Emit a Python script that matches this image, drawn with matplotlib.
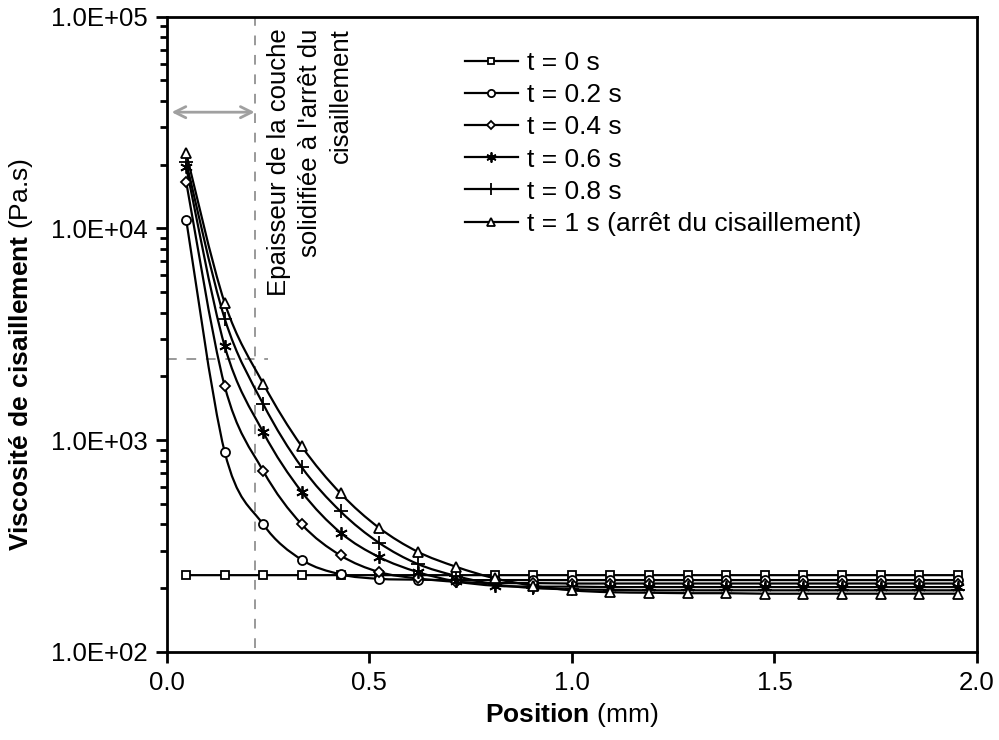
import numpy as np
import matplotlib
matplotlib.use('Agg')
from matplotlib import pyplot as plt
from matplotlib.path import Path
from matplotlib.patches import PathPatch
from matplotlib.lines import Line2D
from matplotlib.ticker import FixedLocator, LogLocator, FuncFormatter, NullFormatter

plt.rcParams['font.family'] = ['Liberation Sans', 'DejaVu Sans']
plt.rcParams['mathtext.fontset'] = 'custom'
plt.rcParams['mathtext.rm'] = 'Liberation Sans'
plt.rcParams['mathtext.bf'] = 'Liberation Sans:bold'

# Position (mm) of the computed nodes
position = [0.048, 0.143, 0.238, 0.333, 0.429, 0.524, 0.619, 0.714, 0.810, 0.905,
            1.000, 1.095, 1.190, 1.286, 1.381, 1.476, 1.571, 1.667, 1.762, 1.857, 1.952]

# Shear viscosity (Pa.s)
visc_t0  = [230, 230, 230, 230, 230, 230, 230, 230, 230, 230,
            230, 230, 230, 230, 230, 230, 230, 230, 230, 230, 230]
visc_t02 = [11000, 880, 400, 272, 232, 221, 219, 218, 218, 218,
            218, 218, 218, 218, 218, 218, 218, 218, 218, 218, 218]
visc_t04 = [16600, 1800, 715, 400, 285, 238, 222, 214, 211, 211,
            210, 210, 210, 210, 210, 210, 210, 210, 210, 210, 210]
visc_t06 = [19500, 2780, 1090, 570, 365, 280, 238, 215, 205, 203,
            203, 202, 202, 202, 202, 202, 202, 202, 202, 202, 202]
visc_t08 = [20600, 3750, 1480, 745, 460, 327, 260, 228, 208, 200,
            197, 196, 195, 195, 195, 195, 195, 195, 195, 195, 195]
visc_t1  = [22700, 4450, 1850, 935, 560, 385, 297, 252, 222, 205,
            195, 191, 190, 189, 189, 188, 188, 188, 188, 188, 188]

labels  = ['t = 0 s', 't = 0.2 s', 't = 0.4 s', 't = 0.6 s', 't = 0.8 s',
           't = 1 s (arrêt du cisaillement)']
series  = [visc_t0, visc_t02, visc_t04, visc_t06, visc_t08, visc_t1]
markers = ['s', 'o', 'D', (6, 2, 0), '+', '^']
msizes  = [6, 6.5, 5, 9, 10, 7]

# solidified layer thickness marks
layer_x = 0.217
layer_y = 2420
arrow_y = 35400


def smooth_path(xs, ys):
    # Excel-like smoothed line: Catmull-Rom -> cubic Bezier in (x, log y)
    lx = np.asarray(xs, float)
    ly = np.log10(np.asarray(ys, float))
    n = len(lx)
    verts = [(lx[0], ly[0])]
    codes = [Path.MOVETO]
    for i in range(n - 1):
        p0 = i - 1 if i > 0 else i
        p3 = i + 2 if i + 2 < n else i + 1
        c1 = (lx[i] + (lx[i+1] - lx[p0]) / 6, ly[i] + (ly[i+1] - ly[p0]) / 6)
        c2 = (lx[i+1] - (lx[p3] - lx[i]) / 6, ly[i+1] - (ly[p3] - ly[i]) / 6)
        verts += [c1, c2, (lx[i+1], ly[i+1])]
        codes += [Path.CURVE4] * 3
    verts = np.array(verts)
    verts[:, 1] = 10 ** verts[:, 1]
    return Path(verts, codes)


fig = plt.figure(figsize=(9.99, 7.40), dpi=100)
ax = fig.add_axes([0.1669, 0.1193, 0.8111, 0.8581])
ax.set_yscale('log')
ax.set_xlim(0, 2)
ax.set_ylim(1e2, 1e5)

handles = []
for vals, lab, mk, ms in zip(series, labels, markers, msizes):
    ax.add_patch(PathPatch(smooth_path(position, vals), facecolor='none',
                           edgecolor='black', lw=1.6, zorder=3))
    ax.plot(position, vals, linestyle='none', marker=mk, ms=ms,
            mfc='white', mec='black', mew=1.3, zorder=4)
    handles.append(Line2D([], [], color='black', lw=1.6, marker=mk, ms=ms * 0.8,
                          mfc='white', mec='black', mew=1.3, label=lab))

# dashed guides + arrow for the solidified layer
ax.plot([layer_x, layer_x], [1.04e2, 1e5], color='#999999', lw=1.4,
        linestyle=(0, (5, 5)), zorder=2)
ax.plot([0, 0.25], [layer_y, layer_y], color='#999999', lw=1.4,
        linestyle=(0, (5, 5)), zorder=2)
ax.annotate('', xy=(0.012, arrow_y), xytext=(layer_x, arrow_y),
            arrowprops=dict(arrowstyle='<->', color='#A0A0A0', lw=2,
                            mutation_scale=20, shrinkA=0, shrinkB=0))
ax.text(0.1769, 0.982, "Epaisseur de la couche\nsolidifiée à l'arrêt du\ncisaillement",
        transform=ax.transAxes, rotation=90, ha='center', va='top',
        multialignment='right', fontsize=18.5, linespacing=1.36)

leg = ax.legend(handles=handles, loc='upper left', bbox_to_anchor=(0.368, 0.946),
                frameon=False, fontsize=19, handlelength=2.0, handletextpad=0.34,
                labelspacing=0.31, borderpad=0, borderaxespad=0)

# axes style
for sp in ax.spines.values():
    sp.set_linewidth(2)
ax.xaxis.set_major_locator(FixedLocator([0, 0.5, 1.0, 1.5, 2.0]))
ax.xaxis.set_major_formatter(FuncFormatter(lambda v, p: '{0:.1f}'.format(v)))
ax.yaxis.set_major_locator(LogLocator(base=10, numticks=10))
ax.yaxis.set_minor_locator(LogLocator(base=10, subs=np.arange(2, 10), numticks=20))
ax.yaxis.set_minor_formatter(NullFormatter())
ax.yaxis.set_major_formatter(FuncFormatter(
    lambda v, p: '1.0E+{0:02d}'.format(int(round(np.log10(v))))))
ax.tick_params(which='major', direction='out', length=8, width=2, labelsize=18.5, pad=6)
ax.tick_params(which='minor', direction='out', length=5, width=2)

ax.set_xlabel(r'$\mathbf{Position}$ (mm)', fontsize=19, labelpad=4)
ax.set_ylabel(r'$\mathbf{Viscosité\ de\ cisaillement}$ (Pa.s)', fontsize=19)
ax.yaxis.set_label_coords(-0.163, 0.468)

fig.savefig('out.png', dpi=100)
